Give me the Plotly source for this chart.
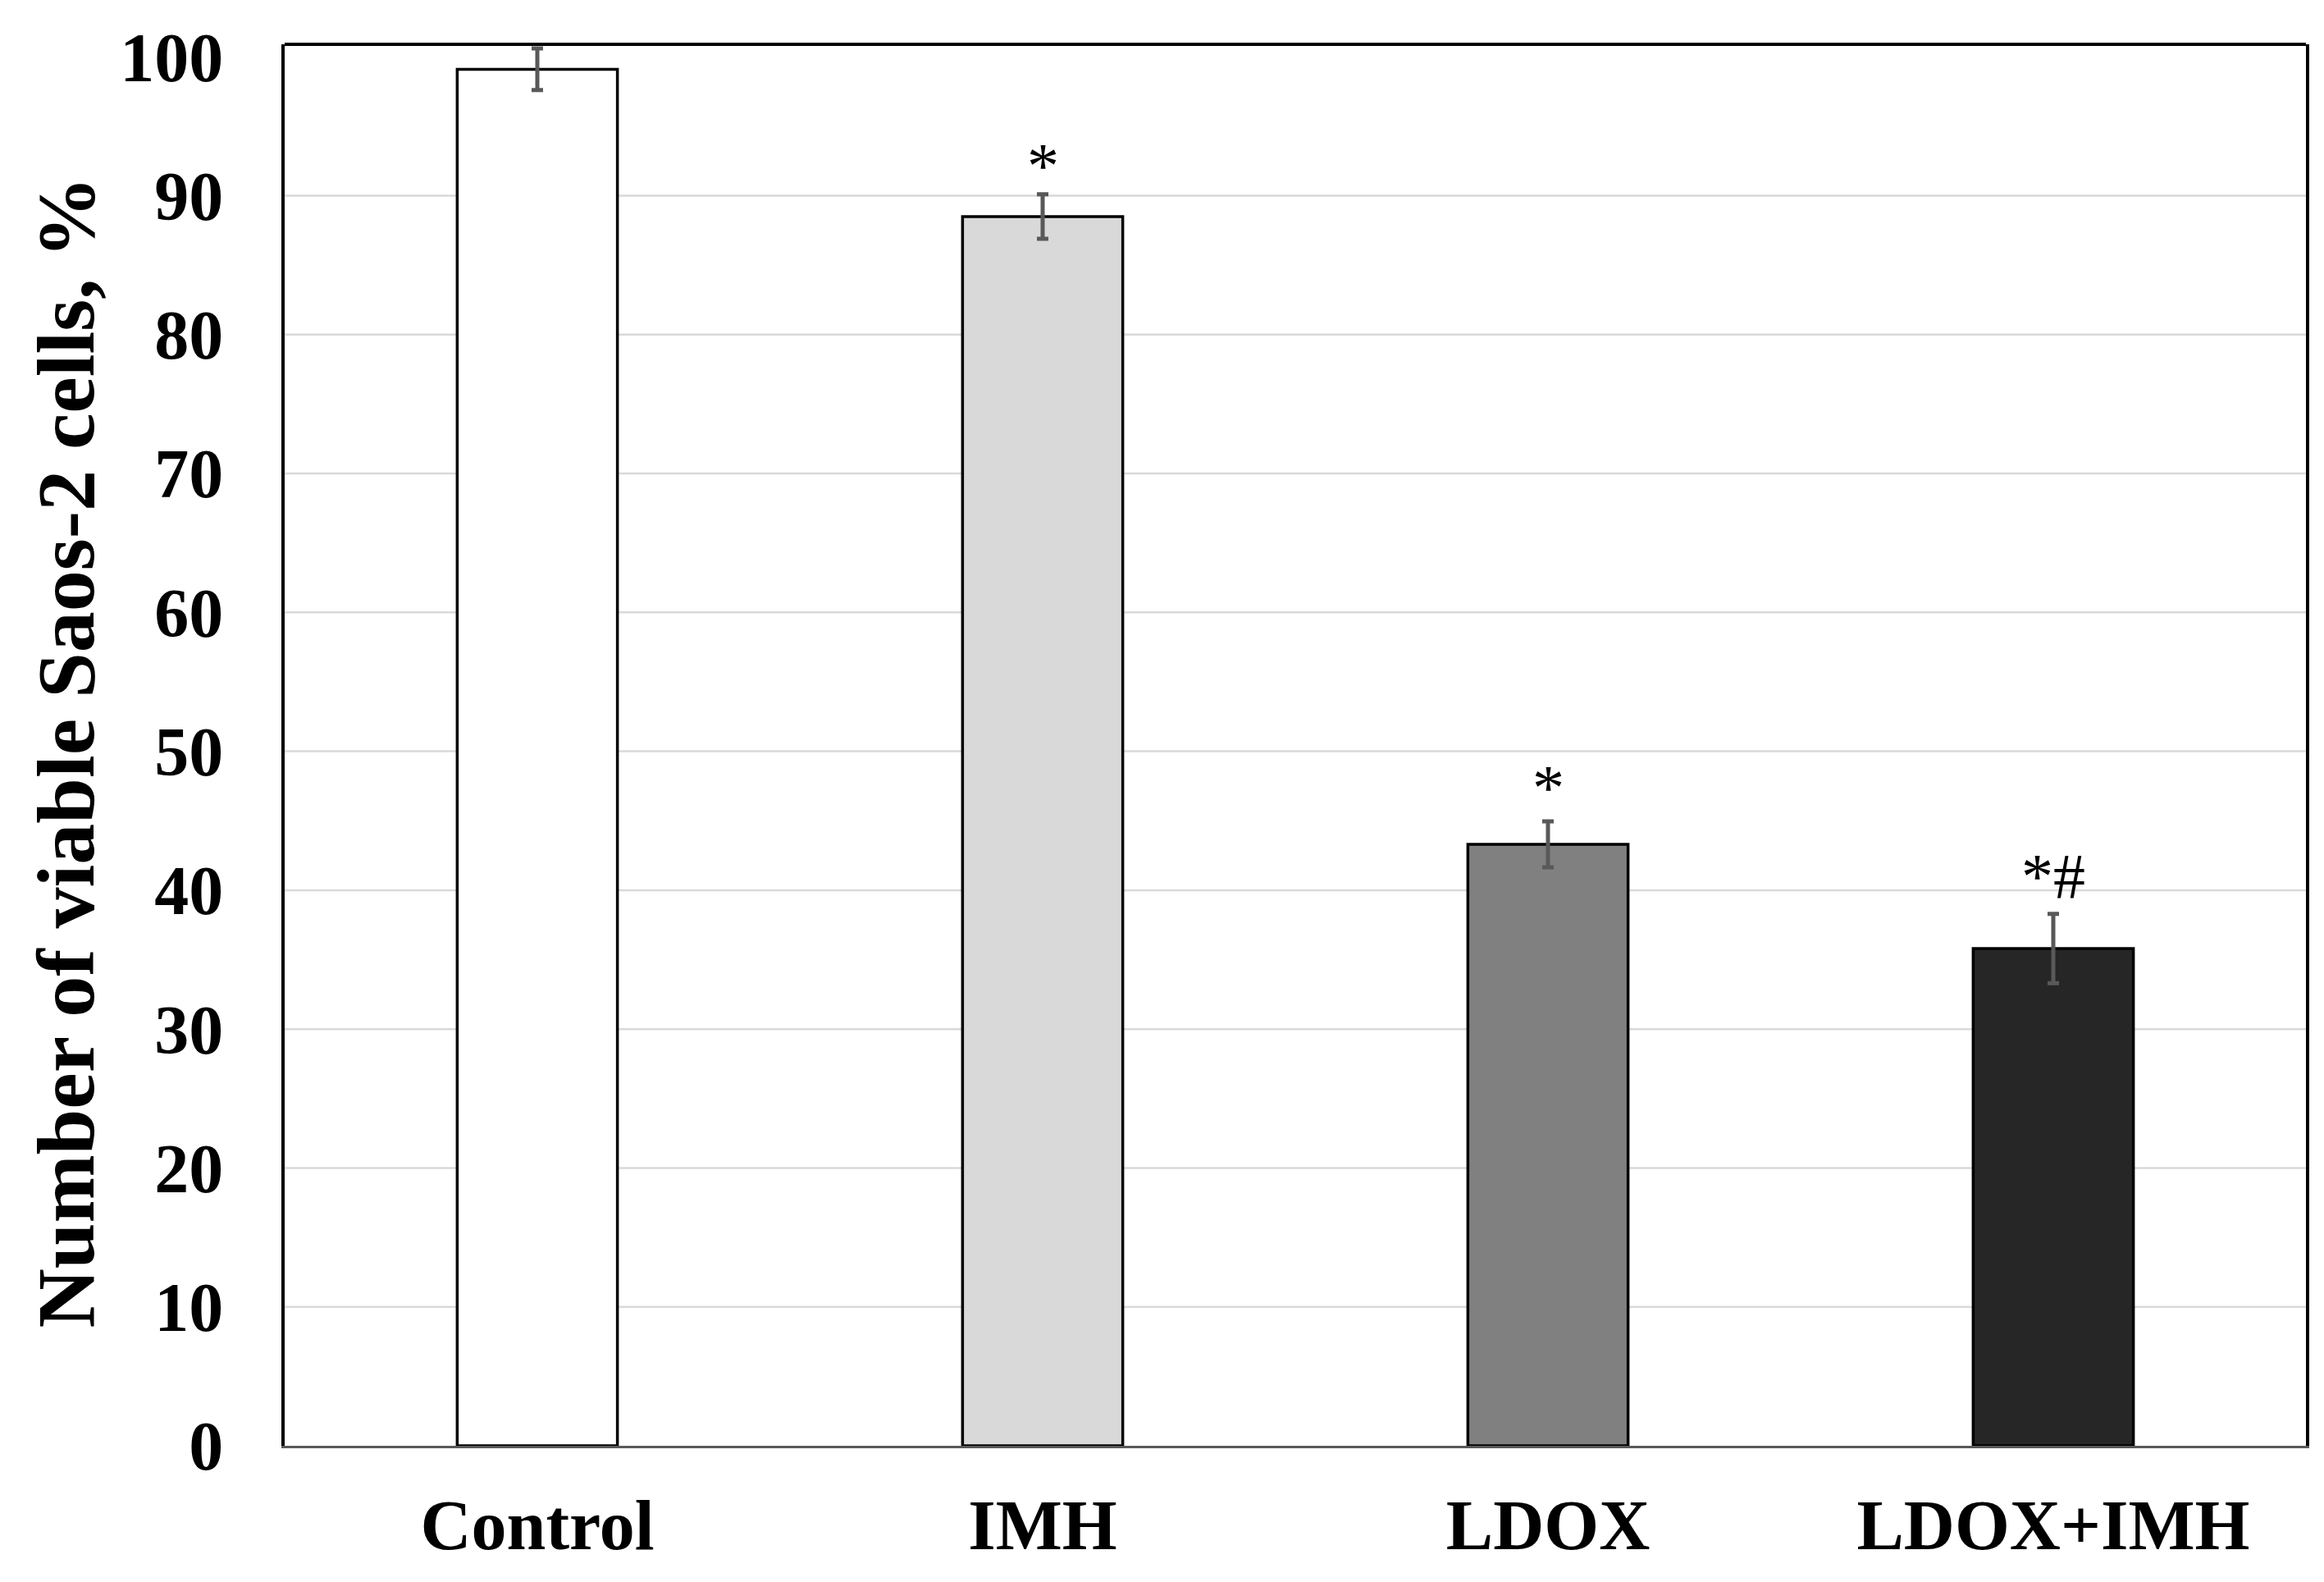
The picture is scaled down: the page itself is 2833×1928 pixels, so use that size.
import plotly.graph_objects as go

categories = ["Control", "IMH", "LDOX", "LDOX+IMH"]
values = [99.1, 88.5, 43.3, 35.8]
errors = [1.5, 1.6, 1.65, 2.5]
colors = ["#ffffff", "#d9d9d9", "#808080", "#262626"]
marks = ["", "*", "*", "*#"]
mark_y = [None, 92.2, 47.4, 41.0]
yticks = [0, 10, 20, 30, 40, 50, 60, 70, 80, 90, 100]
grid_vals = [10, 20, 30, 40, 50, 60, 70, 80, 90]
y_title = "Number of viable Saos-2 cells, %"

fig = go.Figure()
fig.add_trace(go.Bar(
    x=categories, y=values,
    marker=dict(color=colors, line=dict(color="#000000", width=3.5)),
    error_y=dict(type="data", array=errors, visible=True, color="#595959", thickness=5, width=7),
    width=0.317,
))

for c, m, yy in zip(categories, marks, mark_y):
    if m:
        fig.add_annotation(x=c, y=yy, text=m, showarrow=False,
                           font=dict(family="Liberation Serif", size=78, color="#000000"),
                           xanchor="center", yanchor="middle")

fig.add_annotation(xref="paper", yref="paper", x=-0.108, y=0.495, text=y_title,
                   textangle=-90, showarrow=False, xanchor="center", yanchor="middle",
                   font=dict(family="Liberation Serif", size=100, color="#000000", weight="bold"))

for g in grid_vals:
    fig.add_shape(type="line", xref="paper", yref="y", x0=0, x1=1, y0=g, y1=g,
                  line=dict(color="#d9d9d9", width=2.5), layer="below")

fig.add_shape(type="line", xref="paper", yref="paper", x0=0, x1=1, y0=1, y1=1,
              line=dict(color="#000000", width=4))

fig.update_layout(
    width=2825, height=1920,
    margin=dict(l=339, r=22, t=46, b=166),
    paper_bgcolor="#ffffff", plot_bgcolor="#ffffff",
    showlegend=False,
    font=dict(family="Liberation Serif", color="#000000"),
)
fig.update_xaxes(
    showline=True, linecolor="#595959", linewidth=3,
    showgrid=False, ticks="",
    tickfont=dict(family="Liberation Serif", size=86, color="#000000", weight="bold"),
    ticklabelstandoff=20,
)
fig.update_yaxes(
    range=[0, 100.9],
    tickvals=yticks, ticktext=[str(v) for v in yticks],
    showline=True, linecolor="#000000", linewidth=4, mirror=True,
    showgrid=False,
    zeroline=False, ticks="",
    tickfont=dict(family="Liberation Serif", size=84, color="#000000", weight="bold"),
    ticklabelstandoff=54,
)

fig.write_html("out.html")
